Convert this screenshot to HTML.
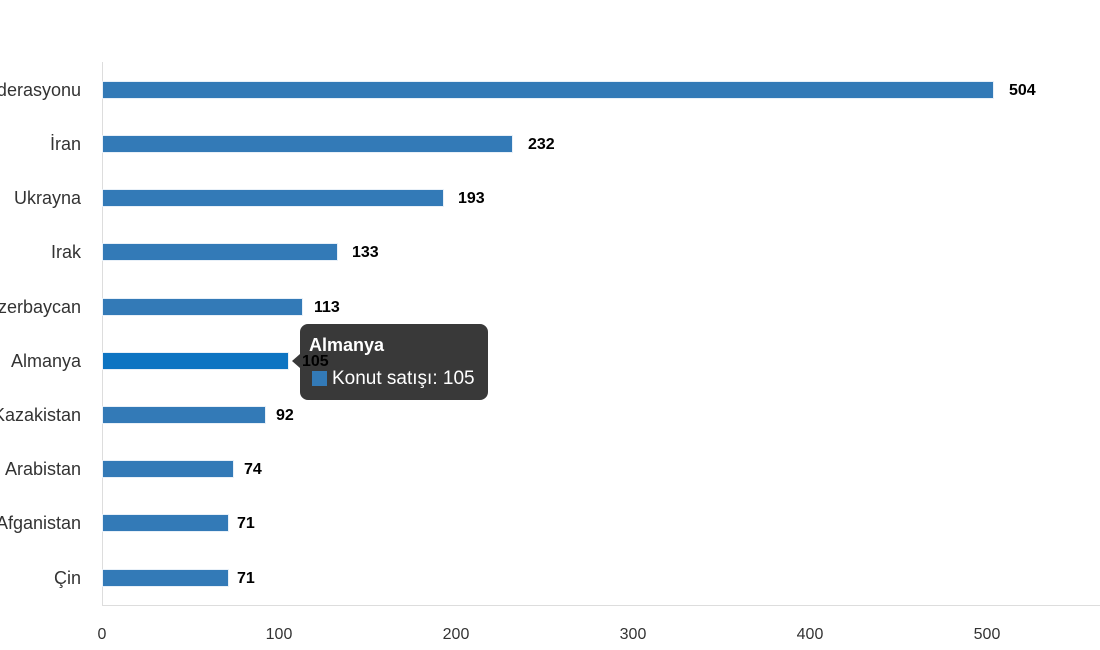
<!DOCTYPE html>
<html><head><meta charset="utf-8"><style>
html,body{margin:0;padding:0;background:#fff;width:1100px;height:650px;overflow:hidden}
text{font-family:"Liberation Sans",sans-serif}
</style></head><body>
<svg width="1100" height="650" xmlns="http://www.w3.org/2000/svg">
<line x1="102.5" y1="62" x2="102.5" y2="606" stroke="#ddd"/>
<line x1="102" y1="605.5" x2="1100" y2="605.5" stroke="#ddd"/>
<g font-size="16" fill="#333" text-anchor="middle">
<text x="102" y="639">0</text><text x="279" y="639">100</text><text x="456" y="639">200</text><text x="633" y="639">300</text><text x="810" y="639">400</text><text x="987" y="639">500</text>
</g>
<g font-size="18" fill="#333" text-anchor="end">
<text x="81" y="96">Federasyonu</text>
<text x="81" y="150">İran</text>
<text x="81" y="204">Ukrayna</text>
<text x="81" y="258">Irak</text>
<text x="81" y="313">Azerbaycan</text>
<text x="81" y="367">Almanya</text>
<text x="81" y="421">Kazakistan</text>
<text x="81" y="475">Arabistan</text>
<text x="81" y="529">Afganistan</text>
<text x="81" y="584">Çin</text>
</g>
<g fill="#337ab7" stroke="#e8f0f8" stroke-width="1">
<rect x="102.5" y="81.5" width="891" height="17"/>
<rect x="102.5" y="135.5" width="410" height="17"/>
<rect x="102.5" y="189.5" width="341" height="17"/>
<rect x="102.5" y="243.5" width="235" height="17"/>
<rect x="102.5" y="298.5" width="200" height="17"/>
<rect x="102.5" y="352.5" width="186" height="17" fill="#0d74c2"/>
<rect x="102.5" y="406.5" width="163" height="17"/>
<rect x="102.5" y="460.5" width="131" height="17"/>
<rect x="102.5" y="514.5" width="126" height="17"/>
<rect x="102.5" y="569.5" width="126" height="17"/>
</g>
<path d="M308 324 H480 a8 8 0 0 1 8 8 V392 a8 8 0 0 1 -8 8 H308 a8 8 0 0 1 -8 -8 V368 L292 361 L300 354 V332 a8 8 0 0 1 8 -8 Z" fill="#333" fill-opacity="0.97"/>
<text x="309" y="351" font-size="18" font-weight="bold" fill="#fff">Almanya</text>
<rect x="312" y="371" width="15" height="15" fill="#337ab7"/>
<text x="332" y="384" font-size="19" fill="#fff">Konut satışı: 105</text>
<g font-size="16" font-weight="bold" fill="#000">
<text x="1009" y="95">504</text>
<text x="528" y="149">232</text>
<text x="458" y="203">193</text>
<text x="352" y="257">133</text>
<text x="314" y="312">113</text>
<text x="302" y="366">105</text>
<text x="276" y="420">92</text>
<text x="244" y="474">74</text>
<text x="237" y="528">71</text>
<text x="237" y="583">71</text>
</g>
</svg>
</body></html>
